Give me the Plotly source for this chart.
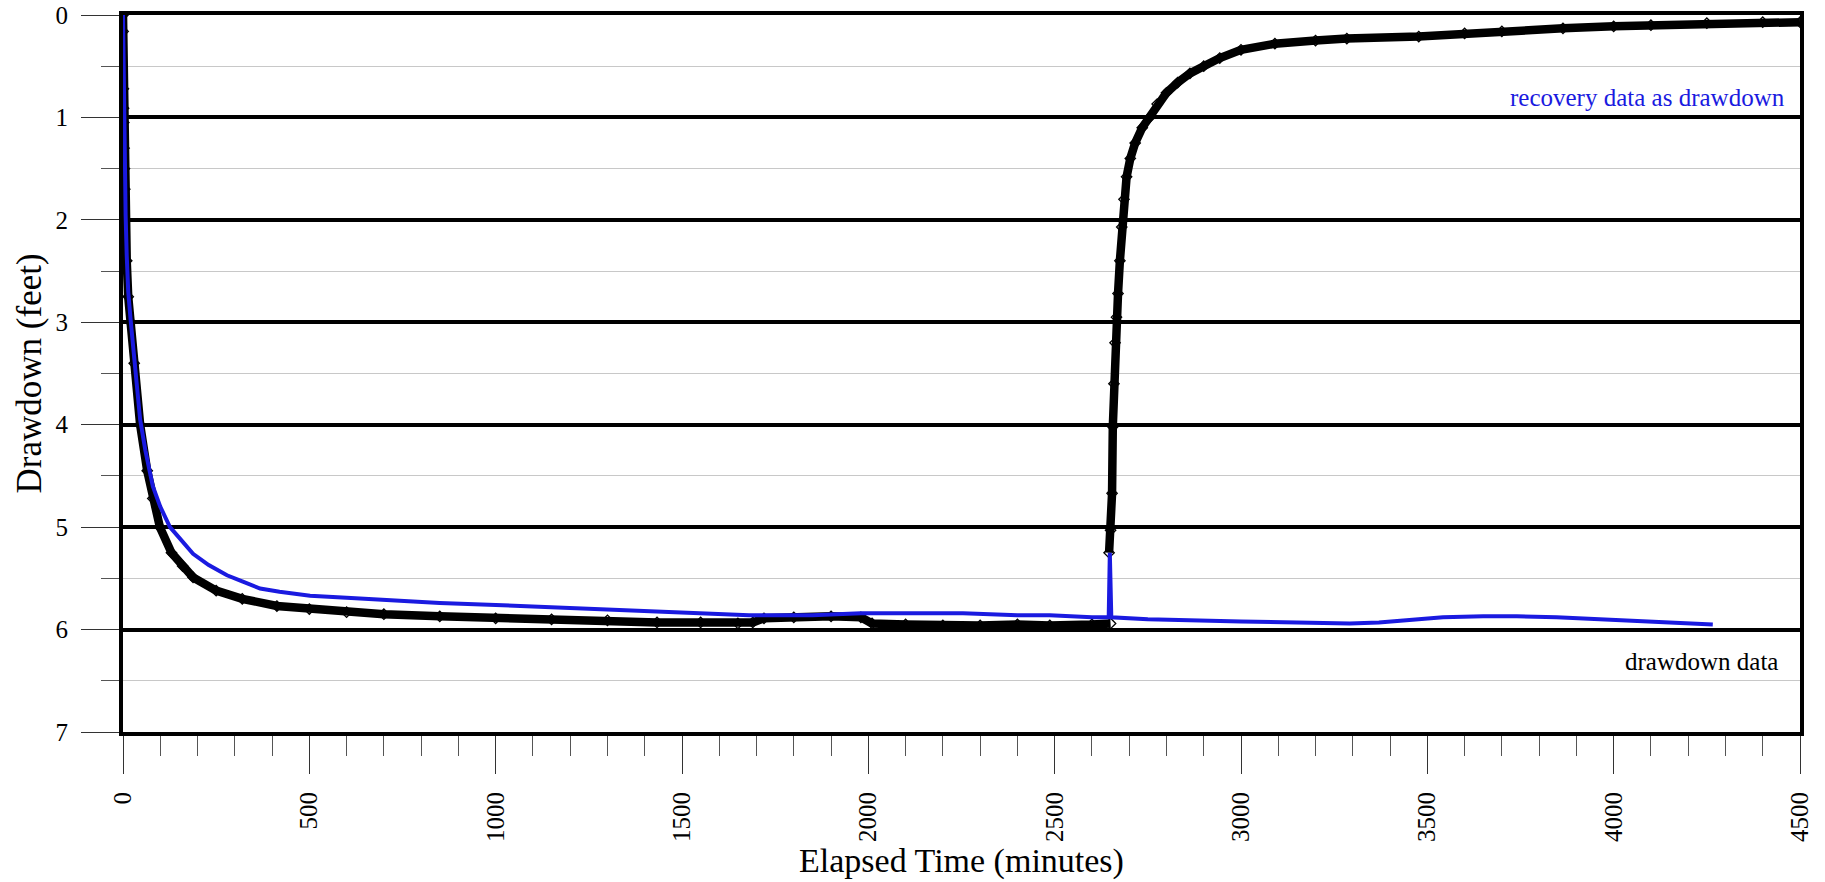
import plotly.graph_objects as go

# Drawdown phase (black)
dd_time = [0, 0.5, 1, 1.5, 2, 3, 4, 5, 7, 10, 14, 21, 30, 46, 65, 80, 99, 130, 160, 188, 250, 320, 413,
           500, 600, 700, 850, 1000, 1150, 1300, 1433, 1550, 1650, 1690, 1720, 1800, 1900, 1980, 2010,
           2100, 2200, 2300, 2400, 2487, 2600, 2650]
dd_ft = [0.0, 0.16, 0.72, 0.91, 1.05, 1.3, 1.5, 1.7, 2.0, 2.4, 2.75, 3.0, 3.4, 4.0, 4.45, 4.72, 5.0, 5.25, 5.38,
         5.49, 5.62, 5.7, 5.77, 5.8, 5.83, 5.85, 5.87, 5.89, 5.9, 5.91, 5.93, 5.93, 5.94, 5.93, 5.89, 5.88,
         5.87, 5.88, 5.94, 5.95, 5.96, 5.96, 5.95, 5.96, 5.95, 5.94]

# Recovery phase (black)
rc_time = [2646, 2650, 2654, 2656, 2659, 2662, 2666, 2670, 2675, 2680, 2686, 2693, 2703, 2716, 2735, 2755,
           2775, 2800, 2830, 2863, 2900, 2943, 3000, 3091, 3200, 3284, 3477, 3600, 3700, 3864, 4000, 4100,
           4250, 4400, 4500]
rc_ft = [5.25, 5.03, 4.67, 4.02, 3.6, 3.2, 2.95, 2.72, 2.4, 2.07, 1.8, 1.58, 1.4, 1.25, 1.1, 1.0, 0.87, 0.76,
         0.66, 0.57, 0.5, 0.42, 0.34, 0.28, 0.25, 0.23, 0.21, 0.18, 0.16, 0.13, 0.11, 0.1, 0.08, 0.07, 0.07]

# Recovery data as drawdown (blue)
bl_time = [0, 0.5, 1, 2, 3, 5, 7, 10, 14, 21, 30, 46, 60, 80, 100, 126, 150, 188, 230, 279, 320, 368, 420,
           502, 600, 700, 850, 1000, 1250, 1500, 1680, 1850, 1980, 2100, 2254, 2400, 2487, 2600, 2645, 2648,
           2652, 2750, 2844, 3000, 3150, 3292, 3370, 3450, 3542, 3650, 3740, 3847, 3950, 4052, 4150, 4266]
bl_ft = [0.0, 0.16, 0.7, 1.0, 1.25, 1.65, 1.95, 2.35, 2.7, 3.0, 3.35, 3.95, 4.25, 4.6, 4.8, 5.0, 5.1, 5.26,
         5.37, 5.47, 5.53, 5.6, 5.63, 5.67, 5.69, 5.71, 5.74, 5.76, 5.8, 5.84, 5.86, 5.86, 5.84, 5.84, 5.84,
         5.86, 5.86, 5.88, 5.88, 5.25, 5.88, 5.9, 5.91, 5.92, 5.93, 5.94, 5.93, 5.91, 5.88, 5.87, 5.87, 5.88,
         5.9, 5.92, 5.93, 5.95]

x_ticks = [0, 500, 1000, 1500, 2000, 2500, 3000, 3500, 4000, 4500]
y_ticks = [0, 1, 2, 3, 4, 5, 6, 7]

FONT = "Liberation Serif"
BLACK = "#000000"
BLUE = "#1a1ae0"

fig = go.Figure()
fig.add_trace(go.Scatter(x=dd_time, y=dd_ft, mode="lines+markers", name="drawdown data",
                         line=dict(color=BLACK, width=8.5),
                         marker=dict(symbol="diamond-open", size=8, color=BLACK, line=dict(width=1.3))))
fig.add_trace(go.Scatter(x=rc_time, y=rc_ft, mode="lines+markers", name="recovery data",
                         line=dict(color=BLACK, width=8.5),
                         marker=dict(symbol="diamond-open", size=8, color=BLACK, line=dict(width=1.3))))
fig.add_trace(go.Scatter(x=bl_time, y=bl_ft, mode="lines", name="recovery data as drawdown",
                         line=dict(color=BLUE, width=4)))

fig.add_annotation(x=0.992, xref="paper", y=0.81, yref="y", text="recovery data as drawdown",
                   showarrow=False, xanchor="right", yanchor="middle",
                   font=dict(family=FONT, size=25, color=BLUE))
fig.add_annotation(x=0.988, xref="paper", y=6.31, yref="y", text="drawdown data",
                   showarrow=False, xanchor="right", yanchor="middle",
                   font=dict(family=FONT, size=25, color=BLACK))
# y-axis title
fig.add_annotation(x=-0.0555, xref="paper", y=0.5, yref="paper", text="Drawdown (feet)",
                   showarrow=False, textangle=-90, xanchor="center", yanchor="middle",
                   font=dict(family=FONT, size=35, color=BLACK))

fig.update_layout(
    width=1825, height=882,
    margin=dict(l=123, r=25, t=15, b=150),
    paper_bgcolor="white", plot_bgcolor="white",
    showlegend=False,
    font=dict(family=FONT, size=25, color=BLACK),
)
fig.update_xaxes(
    range=[0, 4500], tickvals=x_ticks, ticktext=[str(v) for v in x_ticks],
    tickangle=-90, ticks="outside", ticklen=38, tickwidth=1, tickcolor="#333",
    ticklabelstandoff=8, automargin=False,
    showgrid=False, zeroline=False,
    showline=True, linewidth=4, linecolor=BLACK, mirror=True,
    minor=dict(dtick=100, ticks="outside", ticklen=20, tickwidth=1, tickcolor="#555", showgrid=False),
    title=dict(text="Elapsed Time (minutes)", font=dict(family=FONT, size=34), standoff=4),
    tickfont=dict(family=FONT, size=25),
)
fig.update_yaxes(
    range=[7, 0], tickvals=y_ticks, ticktext=[str(v) for v in y_ticks],
    ticks="outside", ticklen=38, tickwidth=1, tickcolor="#333",
    ticklabelstandoff=8, automargin=False,
    showgrid=True, gridcolor=BLACK, gridwidth=3.5, zeroline=False,
    showline=True, linewidth=4, linecolor=BLACK, mirror=True,
    minor=dict(dtick=0.5, ticks="outside", ticklen=18, tickwidth=1, tickcolor="#555",
               showgrid=True, gridcolor="#c8c8c8", gridwidth=1),
    tickfont=dict(family=FONT, size=25),
)

fig.write_html("out.html")
